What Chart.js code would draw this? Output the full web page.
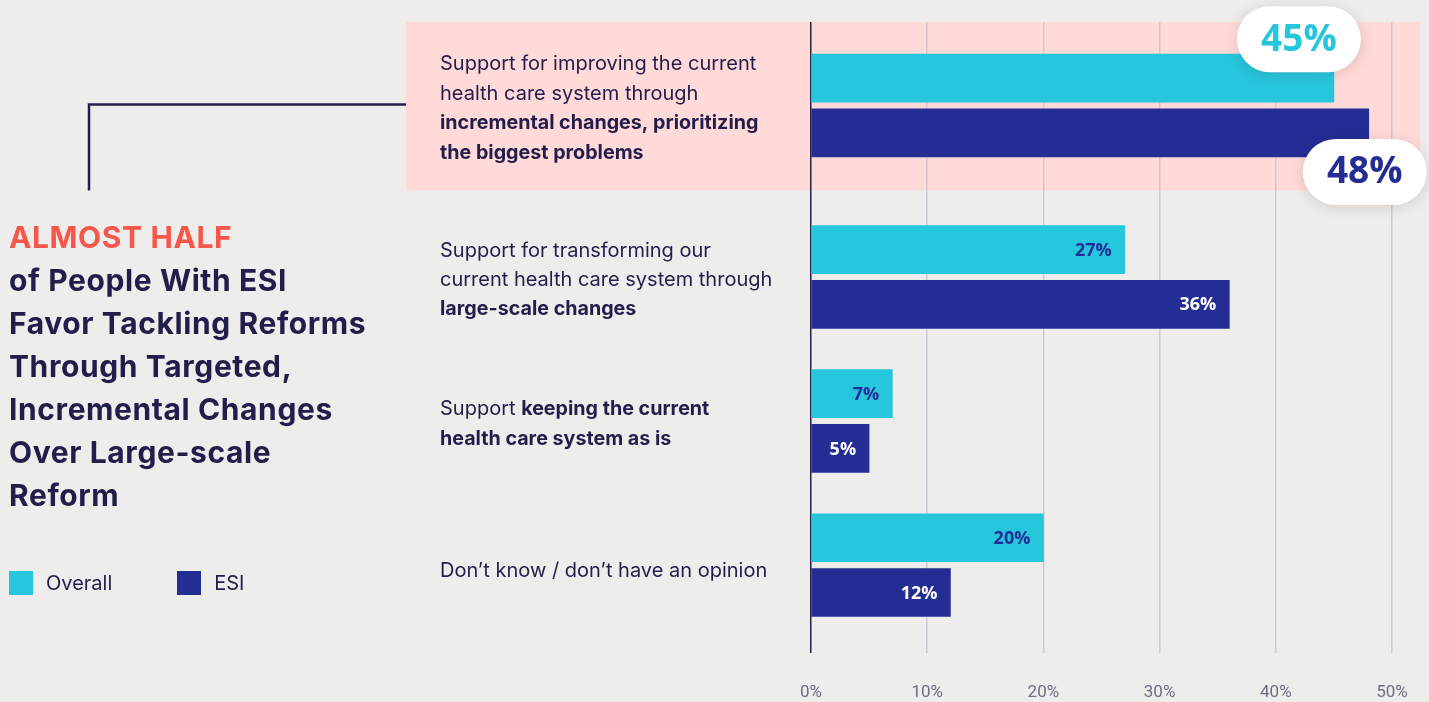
<!DOCTYPE html>
<html>
<head>
<meta charset="utf-8">
<title>Health care reform preferences</title>
<script src="https://cdn.jsdelivr.net/npm/chart.js@4.4.1/dist/chart.umd.min.js"></script>
<style>
  html, body { margin: 0; padding: 0; background: #eeedeb; }
  body { width: 1429px; height: 702px; position: relative; overflow: hidden; font-family: 'Inter', sans-serif; color: #221d4a; }
  #chart { position: absolute; left: 0; top: 0; }
  .headline { position: absolute; left: 9px; top: 216px; margin: 0; font-size: 30px; font-weight: 700; line-height: 43px; letter-spacing: 0.6px; }
  .headline .accent { color: #f5574a; }
  .legend { position: absolute; left: 9px; top: 571px; display: flex; font-size: 20px; line-height: 24px; }
  .legend .item { display: flex; align-items: center; }
  .legend .item + .item { margin-left: 65px; }
  .legend .swatch { width: 24px; height: 24px; margin-right: 13px; }
</style>
</head>
<body>
<canvas id="chart" width="1429" height="702"></canvas>
<h1 class="headline">
  <span class="accent">ALMOST HALF</span><br>
  of People With ESI<br>
  Favor Tackling Reforms<br>
  Through Targeted,<br>
  Incremental Changes<br>
  Over Large-scale<br>
  Reform
</h1>
<div class="legend" id="legend"></div>

<script>
// category text, one entry per row: lines made of [text, bold] pieces
const categoryLines = [
  [
    [['Support for improving the current', false]],
    [['health care system through', false]],
    [['incremental changes, prioritizing', true]],
    [['the biggest problems', true]]
  ],
  [
    [['Support for transforming our', false]],
    [['current health care system through', false]],
    [['large-scale changes', true]]
  ],
  [
    [['Support ', false], ['keeping the current', true]],
    [['health care system as is', true]]
  ],
  [
    [['Don\u2019t know / don\u2019t have an opinion', false]]
  ]
];

const seriesNames = ['Overall', 'ESI'];
const overallValues = [45, 27, 7, 20];
const esiValues = [48, 36, 5, 12];
const xTickValues = [0, 10, 20, 30, 40, 50];

const seriesColors = ['#26c6dc', '#232d93'];
const insideLabelColors = ['#232d93', '#ffffff'];

// row layout on the hidden y scale (1 unit = one row step)
const rowCenters = [0.58, 1.77, 2.77, 3.77];
const barShift = 0.19;
const yMax = 4.38;
const highlightRow = 0;
const highlightBottom = 1.17;
const highlightLeft = 406;
const highlightRight = 1420;

function rowData(values, dir) {
  return values.map((v, i) => ({ x: v, y: rowCenters[i] + dir * barShift }));
}

// legend
const legendEl = document.getElementById('legend');
seriesNames.forEach((name, i) => {
  const item = document.createElement('div');
  item.className = 'item';
  item.innerHTML = '<span class="swatch" style="background:' + seriesColors[i] + '"></span>' + name;
  legendEl.appendChild(item);
});

function pill(ctx, cx, cy, w, h) {
  const r = h / 2;
  const x = cx - w / 2, y = cy - h / 2;
  ctx.beginPath();
  ctx.moveTo(x + r, y);
  ctx.lineTo(x + w - r, y);
  ctx.arc(x + w - r, cy, r, -Math.PI / 2, Math.PI / 2);
  ctx.lineTo(x + r, y + h);
  ctx.arc(x + r, cy, r, Math.PI / 2, Math.PI * 1.5);
  ctx.closePath();
}

const highlightBand = {
  id: 'highlightBand',
  beforeDraw(chart) {
    const { ctx, scales: { y } } = chart;
    const top = y.getPixelForValue(0);
    const bottom = y.getPixelForValue(highlightBottom);
    ctx.save();
    ctx.fillStyle = '#ffdad8';
    ctx.fillRect(highlightLeft, top, highlightRight - highlightLeft, bottom - top);

    // connector from the headline to the highlighted row
    const rowY = Math.round(y.getPixelForValue(rowCenters[highlightRow])) - 1.5;
    ctx.strokeStyle = '#231f4a';
    ctx.lineWidth = 2.5;
    ctx.beginPath();
    ctx.moveTo(89, bottom);
    ctx.lineTo(89, rowY);
    ctx.lineTo(highlightLeft, rowY);
    ctx.stroke();
    ctx.restore();
  }
};

const rowLabels = {
  id: 'rowLabels',
  afterDatasetsDraw(chart) {
    const { ctx, scales: { y } } = chart;
    ctx.save();

    // category text to the left of the axis
    const lineH = 29.5;
    ctx.fillStyle = '#221d4a';
    ctx.textBaseline = 'middle';
    ctx.textAlign = 'left';
    categoryLines.forEach((lines, i) => {
      const cy = y.getPixelForValue(rowCenters[i]) + (lines.length === 1 ? 6 : 3);
      const startY = cy - (lines.length - 1) * lineH / 2;
      lines.forEach((parts, j) => {
        let x = 440;
        parts.forEach(([text, bold]) => {
          ctx.font = bold ? '700 19.7px Inter' : '400 20px Inter';
          ctx.fillText(text, x, startY + j * lineH);
          x += ctx.measureText(text).width;
        });
      });
    });

    // value labels
    chart.data.datasets.forEach((ds, d) => {
      const meta = chart.getDatasetMeta(d);
      meta.data.forEach((bar, i) => {
        const label = ds.data[i].x + '%';
        if (i === highlightRow) {
          const cx = d === 0 ? bar.x - 35 : bar.x - 4;
          const cy = d === 0 ? bar.y - bar.height / 2 - 15 : bar.y + bar.height / 2 + 15;
          ctx.save();
          ctx.shadowColor = 'rgba(60, 40, 40, 0.16)';
          ctx.shadowBlur = 14;
          ctx.shadowOffsetY = 2;
          ctx.fillStyle = '#ffffff';
          pill(ctx, cx, cy, 124, 66);
          ctx.fill();
          ctx.restore();
          ctx.fillStyle = seriesColors[d];
          ctx.font = '700 37px "Open Sans"';
          ctx.textAlign = 'center';
          ctx.fillText(label, cx, cy + 1);
        } else {
          ctx.fillStyle = insideLabelColors[d];
          ctx.font = '700 18px "Open Sans"';
          ctx.textAlign = 'right';
          ctx.fillText(label, bar.x - 13, bar.y + 1);
        }
      });
    });
    ctx.restore();
  }
};

new Chart(document.getElementById('chart'), {
  type: 'bar',
  data: {
    datasets: [
      {
        label: seriesNames[0],
        data: rowData(overallValues, -1),
        backgroundColor: seriesColors[0]
      },
      {
        label: seriesNames[1],
        data: rowData(esiValues, 1),
        backgroundColor: seriesColors[1]
      }
    ]
  },
  options: {
    indexAxis: 'y',
    responsive: false,
    animation: false,
    devicePixelRatio: 1,
    grouped: false,
    barThickness: 48,
    borderWidth: 0,
    layout: {
      padding: { left: 811, right: 37, top: 22, bottom: 0.6 }
    },
    plugins: {
      legend: { display: false },
      tooltip: { enabled: false }
    },
    scales: {
      x: {
        type: 'linear',
        min: 0,
        max: 50,
        afterBuildTicks: (scale) => { scale.ticks = xTickValues.map(v => ({ value: v })); },
        // one text line below the grid, no extra side padding for edge labels
        afterFit: (scale) => {
          scale.height = 28 + 20.4;
          scale.paddingLeft = 0;
          scale.paddingRight = 0;
        },
        ticks: {
          callback: (v) => v + '%',
          color: '#706c85',
          padding: 30,
          font: { family: 'Roboto', size: 17 }
        },
        grid: {
          drawTicks: false,
          lineWidth: 1.5,
          color: (c) => c.tick && c.tick.value === 0 ? '#231f45' : '#cdcad3'
        },
        border: { display: false }
      },
      y: {
        type: 'linear',
        min: 0,
        max: yMax,
        reverse: true,
        offset: false,
        display: false
      }
    }
  },
  plugins: [highlightBand, rowLabels]
});
</script>
</body>
</html>
